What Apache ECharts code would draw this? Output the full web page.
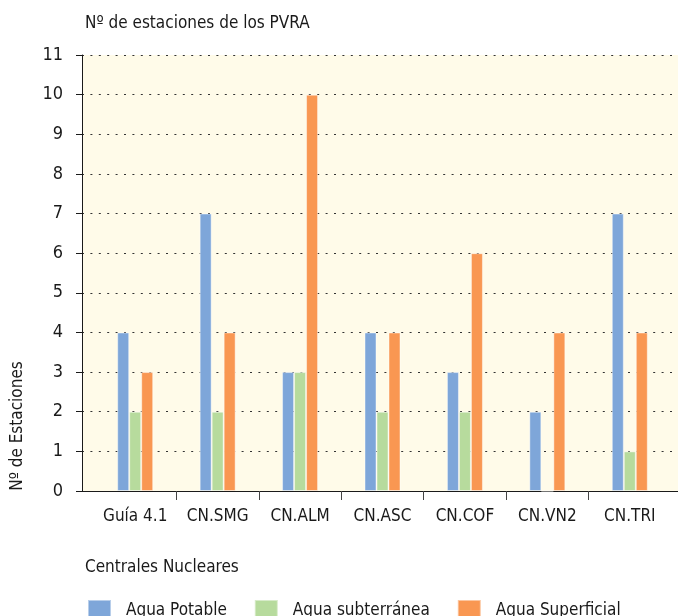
<!DOCTYPE html>
<html>
<head>
<meta charset="utf-8">
<title>Nº de estaciones de los PVRA</title>
<script src="https://cdn.jsdelivr.net/npm/echarts@6/dist/echarts.min.js"></script>
<style>
    html, body { margin: 0; padding: 0; background: #fff; }
    #chart { width: 678px; height: 616px; }
</style>
</head>
<body>
<div id="chart"></div>
<script>
const centrales = ['Guía 4.1', 'CN.SMG', 'CN.ALM', 'CN.ASC', 'CN.COF', 'CN.VN2', 'CN.TRI'];
const aguaPotable = [4, 7, 3, 4, 3, 2, 7];
const aguaSubterranea = [2, 2, 3, 2, 2, 0, 1];
const aguaSuperficial = [3, 4, 10, 4, 6, 4, 4];
const yTicks = [0, 1, 2, 3, 4, 5, 6, 7, 8, 9, 10, 11];

const font = "'Liberation Sans Narrow', 'DejaVu Sans Condensed', sans-serif";
const ink = '#1a1a1a';

const myChart = echarts.init(document.getElementById('chart'));

// bar area: categories start a bit right of the y axis
const barLeft = 94;
const barRight = 7;
const bandWidth = (678 - barLeft - barRight) / centrales.length;

const barSeries = (name, color, data) => ({
    name: name,
    type: 'bar',
    xAxisIndex: 1,
    yAxisIndex: 1,
    barWidth: 12,
    barGap: '0%',
    itemStyle: {
        color: color,
        borderColor: 'rgba(255, 255, 255, 0.45)',
        borderWidth: 1
    },
    data: data
});

const option = {
    backgroundColor: '#fff',
    animation: false,
    textStyle: { fontFamily: font, color: ink },

    title: [
        {
            text: 'Nº de estaciones de los PVRA',
            left: 80,
            top: 10,
            textStyle: { fontFamily: font, fontSize: 17, fontWeight: 'normal', color: ink }
        },
        {
            text: 'Centrales Nucleares',
            left: 80,
            top: 554,
            textStyle: { fontFamily: font, fontSize: 17, fontWeight: 'normal', color: ink }
        }
    ],

    graphic: [
        {
            type: 'text',
            x: 9,
            y: 426,
            rotation: Math.PI / 2,
            style: {
                text: 'Nº de Estaciones',
                font: '17px ' + font,
                fill: ink,
                align: 'center',
                verticalAlign: 'top'
            }
        }
    ],

    legend: {
        left: 82,
        top: 594,
        itemWidth: 23,
        itemHeight: 22,
        itemGap: 27,
        icon: 'rect',
        textStyle: {
            fontFamily: font,
            fontSize: 17,
            color: ink,
            padding: [0, 0, 0, 10]
        },
        data: ['Agua Potable', 'Agua subterránea', 'Agua Superficial']
    },

    grid: [
        // plot background + value axis
        { left: 82, right: 0, top: 55, bottom: 125, show: true, backgroundColor: '#fffbe9', borderWidth: 0 },
        // bars + category labels
        { left: barLeft, right: barRight, top: 55, bottom: 125 },
        // only the inner category ticks (no tick at either end)
        { left: barLeft, right: barRight + bandWidth, top: 55, bottom: 125 }
    ],

    xAxis: [
        {
            gridIndex: 0,
            type: 'value',
            min: 0,
            max: 1,
            axisLine: { show: true, lineStyle: { color: ink, width: 1 } },
            axisTick: { show: false },
            axisLabel: { show: false },
            splitLine: { show: false }
        },
        {
            gridIndex: 1,
            type: 'category',
            data: centrales,
            axisLine: { show: false },
            axisTick: { show: false },
            axisLabel: {
                interval: 0,
                fontFamily: font,
                fontSize: 17,
                color: ink,
                margin: 17
            }
        },
        {
            gridIndex: 2,
            type: 'category',
            data: centrales.slice(0, centrales.length - 1),
            axisLine: { show: false },
            axisLabel: { show: false },
            axisTick: {
                show: true,
                length: 9,
                interval: (i) => i > 0,
                lineStyle: { color: '#444' }
            }
        }
    ],

    yAxis: [
        {
            gridIndex: 0,
            type: 'value',
            min: 0,
            max: 11,
            interval: 1,
            axisLine: { show: true, lineStyle: { color: ink, width: 1 } },
            axisTick: { show: true, length: 6, lineStyle: { color: ink } },
            axisLabel: {
                fontFamily: font,
                fontSize: 18,
                color: ink,
                margin: 19,
                formatter: (v) => (yTicks.indexOf(v) >= 0 ? String(v) : '')
            },
            splitLine: {
                show: true,
                lineStyle: { color: '#333', width: 1, type: [2, 6.4] }
            }
        },
        { gridIndex: 1, type: 'value', min: 0, max: 11, show: false },
        { gridIndex: 2, type: 'value', min: 0, max: 11, show: false }
    ],

    series: [
        barSeries('Agua Potable', '#7ea6d9', aguaPotable),
        barSeries('Agua subterránea', '#b7db9d', aguaSubterranea),
        barSeries('Agua Superficial', '#f99752', aguaSuperficial)
    ]
};

myChart.setOption(option);

window.addEventListener('resize', () => {
    myChart.resize();
});
</script>
</body>
</html>
